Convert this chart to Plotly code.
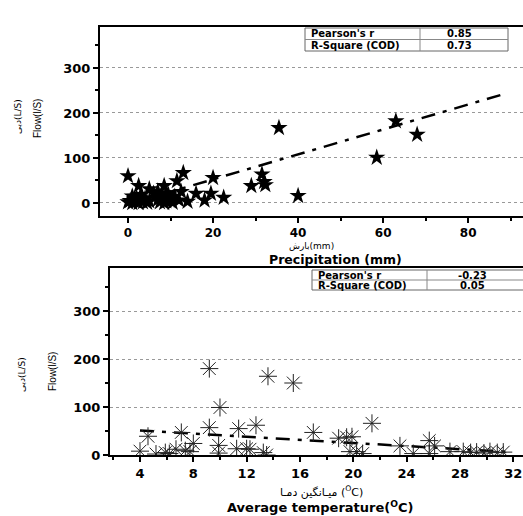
import plotly.graph_objects as go

W, H = 523, 516

# ---- Data: Precipitation vs Flow ----
precip = [0, 2.5, 5, 8.5, 13, 11.5, 12.5, 16, 19.5, 20, 22.5, 18, 14, 29, 31.5, 32, 32.3,
          35.5, 40, 58.5, 63, 68,
          0, 0.5, 1, 1.5, 2, 2, 2.5, 3, 3.5, 4, 4.5, 5, 1, 3, 7, 7.5, 8, 8.5, 9, 9.5,
          10, 10.5, 11, 6, 7, 12, 9, 10]
flow_p = [60, 38, 31, 38, 67, 49, 25, 21, 21, 56, 12, 6, 3, 38, 64, 47, 40,
          167, 16, 101, 182, 152,
          2, 5, 0, 8, 3, 12, 0, 6, 2, 10, 1, 4, 15, 18, 7, 2, 12, 0, 4, 18,
          8, 1, 14, 21, 26, 6, 22, 10]
fit_p_x = [0, 88.5]
fit_p_y = [-2.8, 242.3]

# ---- Data: Average temperature vs Flow ----
temp = [9.2, 13.6, 15.5, 10, 4, 4.6, 7.1, 8, 9.2, 9.9, 11.4, 12.7, 11.25, 12, 13.5,
        17, 18.9, 19.5, 19.9, 21.4, 23.5, 25.7, 26.1,
        6.7, 7.75, 5.9, 9.9, 13.25, 12.25, 19.75, 20.25, 24.5, 25.7,
        27.25, 28.25, 29.25, 30.25, 31.25, 5.2, 6.2, 7.4, 20.7, 28.8, 29.8, 30.8]
flow_t = [180, 164, 150, 99, 8, 39, 47, 24, 57, 20, 55, 62, 13, 13, 0,
          47, 35, 37, 38, 66, 19, 30, 19,
          12, 7, 5, 4, 5, 12, 7, 7, 3, 3,
          7, 7, 6, 7, 6, 2, 3, 9, 3, 5, 4, 5]
fit_t_x = [4, 31.5]
fit_t_y = [51, 6.5]

top_stats = [["Pearson's r", "0.85"], ["R-Square (COD)", "0.73"]]
bot_stats = [["Pearson's r", "-0.23"], ["R-Square (COD)", "0.05"]]


def px(x):
    return x / W


def py(y):
    return 1 - y / H


fig = go.Figure()

fig.add_trace(go.Scatter(x=fit_p_x, y=fit_p_y, mode="lines", xaxis="x", yaxis="y",
                         line=dict(color="black", width=2.5, dash="14px,8px,4px,8px"),
                         showlegend=False))
fig.add_trace(go.Scatter(x=precip, y=flow_p, mode="markers", xaxis="x", yaxis="y",
                         marker=dict(symbol="star", size=13, color="black",
                                     line=dict(width=0)),
                         showlegend=False))
fig.add_trace(go.Scatter(x=fit_t_x, y=fit_t_y, mode="lines", xaxis="x2", yaxis="y2",
                         line=dict(color="black", width=2.5, dash="14px,8px,4px,8px"),
                         showlegend=False))
fig.add_trace(go.Scatter(x=temp, y=flow_t, mode="markers", xaxis="x2", yaxis="y2",
                         marker=dict(symbol="asterisk-open", size=15, color="#222",
                                     line=dict(width=1, color="#222")),
                         showlegend=False))

tickfont = dict(family="DejaVu Sans", size=13, color="black", weight="bold")
tickfont_top_x = dict(family="DejaVu Sans", size=12, color="black", weight="bold")

common_x = dict(showline=True, linecolor="black", linewidth=2, mirror=True,
                ticks="outside", ticklen=5, tickwidth=1.5, tickcolor="black",
                showgrid=False, zeroline=False, automargin=False)
common_y = dict(showline=True, linecolor="black", linewidth=2,
                ticks="outside", ticklen=5, tickwidth=1.5, tickcolor="black",
                showgrid=True, gridcolor="#999", griddash="dot", gridwidth=1,
                zeroline=False, tickfont=tickfont, automargin=False,
                minor=dict(dtick=50, ticks="outside", ticklen=3, tickcolor="black",
                           showgrid=False))

fig.update_layout(
    width=W, height=H,
    margin=dict(l=0, r=0, t=0, b=0, pad=0),
    paper_bgcolor="white", plot_bgcolor="white",
    xaxis=dict(domain=[px(100), 1.0], range=[-6.59, 92.9], anchor="y",
               tick0=0, dtick=20, tickfont=tickfont_top_x,
               minor=dict(dtick=10, ticks="outside", ticklen=3, tickcolor="black"),
               **common_x),
    yaxis=dict(domain=[py(216), py(27)], range=[-28.9, 391], anchor="x",
               tick0=0, dtick=100, **common_y),
    xaxis2=dict(domain=[px(110), 1.0], range=[1.75, 32.73], anchor="y2",
                tick0=0, dtick=4, tickfont=tickfont,
                minor=dict(dtick=2, ticks="outside", ticklen=3, tickcolor="black"),
                **common_x),
    yaxis2=dict(domain=[py(455), py(268)], range=[0, 389.6], anchor="x2",
                tick0=0, dtick=100, **common_y),
)

anns = []
shapes = []


def add_text(x, y, text, size, bold=False, angle=0, family="DejaVu Sans", xanchor="center"):
    anns.append(dict(x=px(x), y=py(y), xref="paper", yref="paper", text=text,
                     showarrow=False, textangle=angle, xanchor=xanchor, yanchor="middle",
                     font=dict(family=family, size=size, color="black",
                               weight="bold" if bold else "normal")))


# axis titles
add_text(311, 246.5, "بارش(mm)", 9)
add_text(335, 259.5, "Precipitation (mm)", 12.5, bold=True)
add_text(321, 491, "میـانگین دمـا (<sup>O</sup>C)", 11)
add_text(320, 507, "Average temperature(<sup>O</sup>C)", 13, bold=True)

add_text(38, 119, "Flow(l/S)", 10, angle=-90, family="Liberation Sans")
add_text(18, 117, "دبی(L/S)", 9, angle=-90)
add_text(52, 372, "Flow(l/S)", 10, angle=-90, family="Liberation Sans")
add_text(22, 375, "دبی(L/S)", 9, angle=-90)


def add_table(x0, x1, xm, y0, y1, stats, valx):
    ym = (y0 + y1) / 2
    shapes.append(dict(type="rect", xref="paper", yref="paper",
                       x0=px(x0), x1=px(x1), y0=py(y1), y1=py(y0),
                       line=dict(color="#666", width=1), fillcolor="white"))
    shapes.append(dict(type="line", xref="paper", yref="paper",
                       x0=px(x0), x1=px(x1), y0=py(ym), y1=py(ym),
                       line=dict(color="#888", width=1)))
    shapes.append(dict(type="line", xref="paper", yref="paper",
                       x0=px(xm), x1=px(xm), y0=py(y0), y1=py(y1),
                       line=dict(color="#888", width=1)))
    rows = [(y0 + ym) / 2, (ym + y1) / 2]
    for r, (lab, val) in zip(rows, stats):
        add_text(x0 + 4, r, lab, 10, bold=True, xanchor="left")
        add_text(valx, r, val, 10, bold=True)


add_table(305, 508, 420, 28, 51, top_stats, 459)
add_table(312, 530, 427, 270, 290, bot_stats, 472)

fig.update_layout(annotations=anns, shapes=shapes)

fig.write_html("out.html", config={"displayModeBar": False},
               post_script="document.body.style.margin='0';document.body.style.overflow='hidden';")
